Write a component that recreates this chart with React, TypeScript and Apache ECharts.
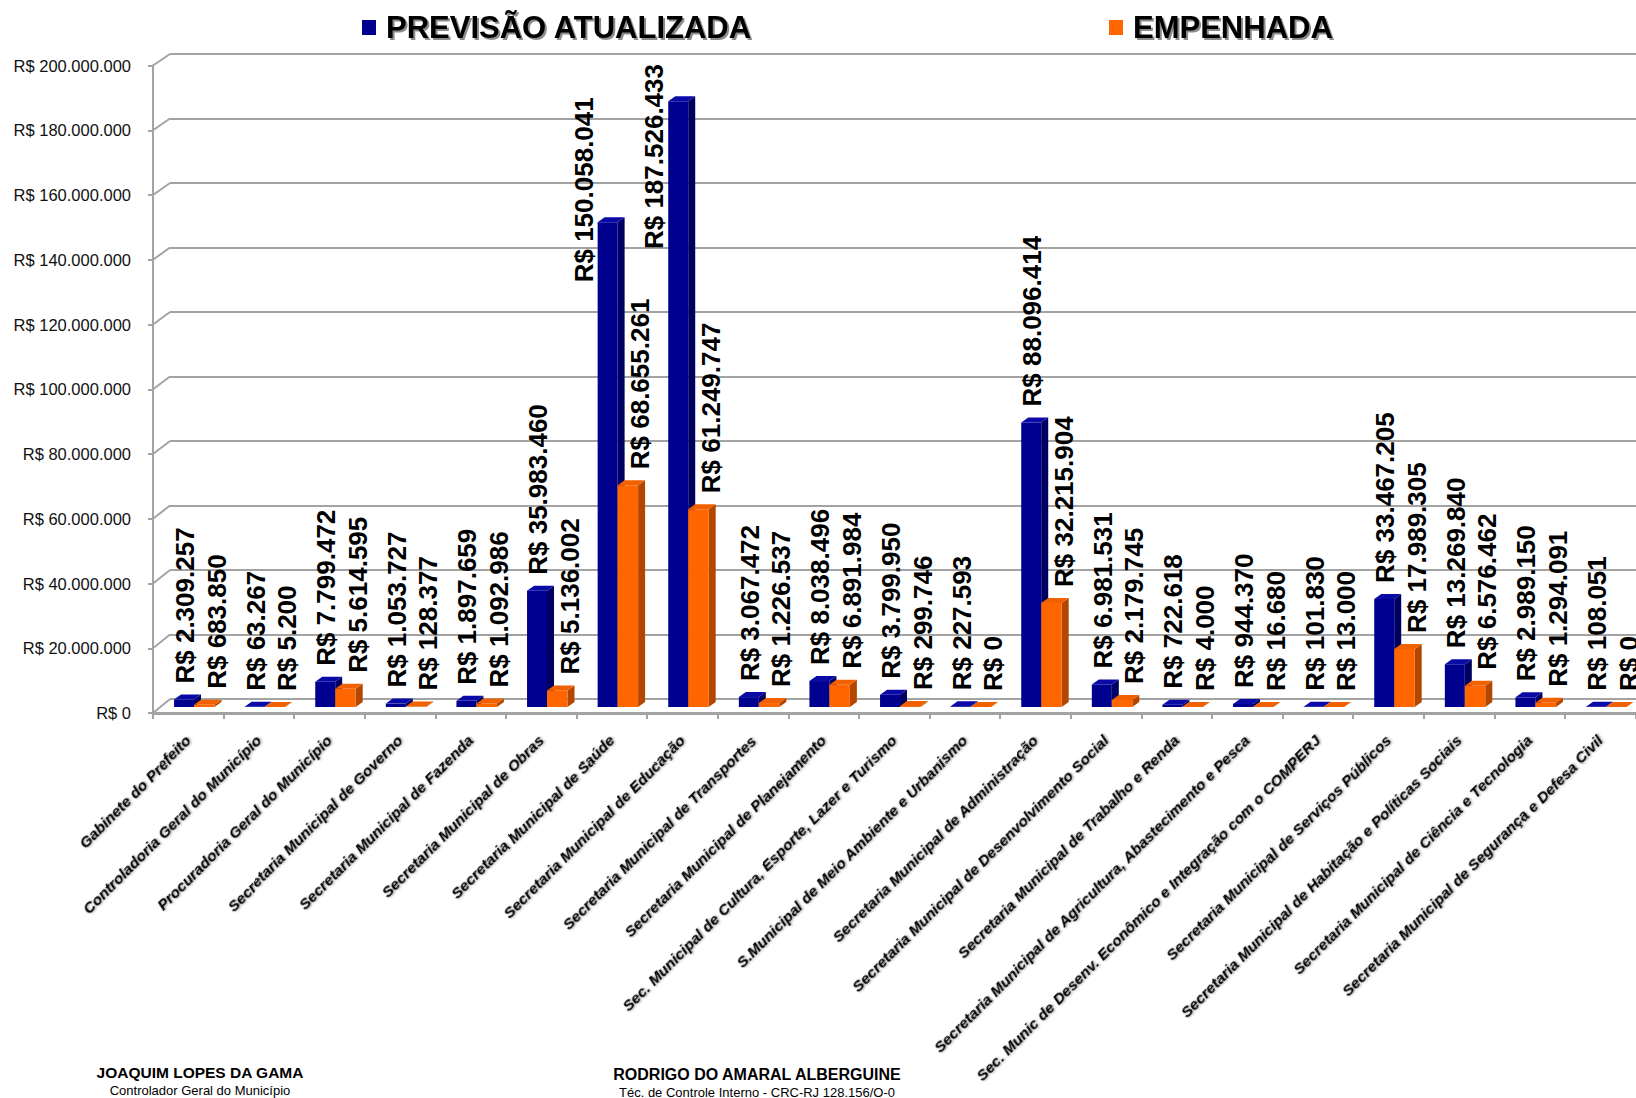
import React, { useEffect, useRef } from "react";
import * as echarts from "echarts";

const categories = [
  "Gabinete do Prefeito",
  "Controladoria Geral do Município",
  "Procuradoria Geral do Município",
  "Secretaria Municipal de Governo",
  "Secretaria Municipal de Fazenda",
  "Secretaria Municipal de Obras",
  "Secretaria Municipal de Saúde",
  "Secretaria Municipal de Educação",
  "Secretaria Municipal de Transportes",
  "Secretaria Municipal de Planejamento",
  "Sec. Municipal de Cultura, Esporte, Lazer e Turismo",
  "S.Municipal de Meio Ambiente e Urbanismo",
  "Secretaria Municipal de Administração",
  "Secretaria Municipal de Desenvolvimento Social",
  "Secretaria Municipal de Trabalho e Renda",
  "Secretaria Municipal de Agricultura, Abastecimento e Pesca",
  "Sec. Munic de Desenv. Econômico e Integração com o COMPERJ",
  "Secretaria Municipal de Serviços Públicos",
  "Secretaria Municipal de Habitação e Políticas Sociais",
  "Secretaria Municipal de Ciência e Tecnologia",
  "Secretaria Municipal de Segurança e Defesa Civil",
];

const previsaoAtualizada = [
  2309257, 63267, 7799472, 1053727, 1897659, 35983460, 150058041, 187526433,
  3067472, 8038496, 3799950, 227593, 88096414, 6981531, 722618, 944370, 101830,
  33467205, 13269840, 2989150, 108051,
];

const empenhada = [
  683850, 5200, 5614595, 128377, 1092986, 5136002, 68655261, 61249747, 1226537,
  6891984, 299746, 0, 32215904, 2179745, 4000, 16680, 13000, 17989305, 6576462,
  1294091, 0,
];

const seriesNames = ["PREVISÃO ATUALIZADA", "EMPENHADA"];
const yTickValues = [0, 20000000, 40000000, 60000000, 80000000, 100000000, 120000000, 140000000, 160000000, 180000000, 200000000];

const footerLeft = ["JOAQUIM LOPES DA GAMA", "Controlador Geral do Município"];
const footerRight = ["RODRIGO DO AMARAL ALBERGUINE", "Téc. de Controle Interno - CRC-RJ 128.156/O-0"];

const FONT = '"Liberation Sans", Arial, Helvetica, sans-serif';
const LABEL_FONT = `bold 26px ${FONT}`;
const COLORS = [
  { front: "#00008f", top: "#0a0aa6", side: "#000060" },
  { front: "#ff6600", top: "#f26100", side: "#b34700" },
];

function fmt(v: number): string {
  const s = Math.round(v).toString();
  return "R$ " + s.replace(/\B(?=(\d{3})+(?!\d))/g, ".");
}

let measureCtx: CanvasRenderingContext2D | null = null;
function measure(text: string): number {
  if (!measureCtx) {
    measureCtx = document.createElement("canvas").getContext("2d");
  }
  if (!measureCtx) return text.length * 14;
  measureCtx.font = LABEL_FONT;
  return measureCtx.measureText(text).width;
}

const LABEL_MIN_TOP = 64;

function makeRender(si: number) {
  return (params: any, api: any) => {
    const i = api.value(0);
    const v = api.value(1);
    const top = api.coord([i, v]);
    const base = api.coord([i, 0]);
    const bw = api.size([1, 0])[0];
    const s = top[0] - bw / 2;
    const x0 = s + (si === 0 ? 0.298 : 0.581) * bw;
    const x1 = s + (si === 0 ? 0.581 : 0.871) * bw;
    const yt = top[1];
    const yb = base[1];
    const dx = 7;
    const dy = 5;
    const c = COLORS[si];
    const text = fmt(v);
    const len = measure(text);
    let lx = s + (si === 0 ? 0.453 : 0.9) * bw;
    let ly = yt - dy - 11;
    if (ly - len < LABEL_MIN_TOP) {
      ly = Math.max(LABEL_MIN_TOP + len, yt + 60);
      lx -= 25;
    }
    return {
      type: "group",
      children: [
        {
          type: "polygon",
          shape: { points: [[x1, yt], [x1 + dx, yt - dy], [x1 + dx, yb - dy], [x1, yb]] },
          style: { fill: c.side },
        },
        {
          type: "rect",
          shape: { x: x0, y: yt, width: x1 - x0, height: Math.max(0, yb - yt) },
          style: { fill: c.front },
        },
        {
          type: "polygon",
          shape: { points: [[x0, yt], [x1, yt], [x1 + dx, yt - dy], [x0 + dx, yt - dy]] },
          style: { fill: c.top },
        },
        {
          type: "text",
          x: lx,
          y: ly,
          rotation: Math.PI / 2,
          z2: 100,
          style: {
            text,
            font: LABEL_FONT,
            fill: "#000",
            align: "left",
            verticalAlign: "middle",
            textAlign: "left",
            textVerticalAlign: "middle",
          },
        },
      ],
    };
  };
}

export default function App() {
  const ref = useRef<HTMLDivElement>(null);

  useEffect(() => {
    if (!ref.current) return;
    const chart = echarts.init(ref.current, undefined, { renderer: "svg" });
    const grey = "#a3a3a3";
    const legendText = {
      fontSize: 31,
      fontWeight: "bold",
      fontFamily: FONT,
      color: "#000",
      textShadowColor: "rgba(0,0,0,0.45)",
      textShadowOffsetX: 2,
      textShadowOffsetY: 2,
      textShadowBlur: 1,
      padding: [0, 0, 0, 5],
    };
    const option: any = {
      animation: false,
      backgroundColor: "#ffffff",
      legend: [
        {
          data: [seriesNames[0]],
          left: 357,
          top: 7,
          icon: "rect",
          itemWidth: 14,
          itemHeight: 15,
          textStyle: legendText,
          selectedMode: false,
        },
        {
          data: [seriesNames[1]],
          left: 1104,
          top: 7,
          icon: "rect",
          itemWidth: 14,
          itemHeight: 15,
          textStyle: legendText,
          selectedMode: false,
        },
      ],
      grid: [
        { left: 170, top: 54, width: 1500, height: 645 },
        { left: 153, top: 65.5, width: 1482.6, height: 647.5 },
        { left: 153, top: 61, width: 1482.6, height: 646 },
      ],
      xAxis: [
        { gridIndex: 0, type: "value", min: 0, max: 1, show: false },
        {
          gridIndex: 1,
          type: "category",
          data: categories,
          boundaryGap: true,
          axisLine: { show: true, lineStyle: { color: grey, width: 3 } },
          axisTick: { show: true, interval: 0, length: 6, lineStyle: { color: grey, width: 2 } },
          axisLabel: {
            interval: 0,
            rotate: 45,
            margin: 25,
            fontSize: 15.5,
            fontStyle: "italic",
            fontWeight: "bold",
            fontFamily: FONT,
            color: "#000",
            textShadowColor: "rgba(0,0,0,0.4)",
            textShadowBlur: 2,
            textShadowOffsetX: 1,
            textShadowOffsetY: 1,
          },
          splitLine: { show: false },
        },
        { gridIndex: 2, type: "category", data: categories, show: false },
      ],
      yAxis: [
        {
          gridIndex: 0,
          type: "value",
          min: 0,
          max: 200000000,
          interval: 20000000,
          axisLine: { show: false },
          axisTick: { show: false },
          axisLabel: { show: false },
          splitLine: { show: true, lineStyle: { color: grey, width: 2 } },
        },
        {
          gridIndex: 1,
          type: "value",
          min: 0,
          max: 200000000,
          interval: 20000000,
          axisLine: { show: true, lineStyle: { color: grey, width: 2 } },
          axisTick: { show: true, length: 5, lineStyle: { color: grey, width: 2 } },
          axisLabel: {
            margin: 22,
            fontSize: 16.5,
            fontFamily: FONT,
            color: "#111",
            formatter: (v: number) => fmt(v),
          },
          splitLine: { show: false },
        },
        { gridIndex: 2, type: "value", min: 0, max: 200000000, show: false },
      ],
      series: [
        {
          name: seriesNames[0],
          type: "custom",
          xAxisIndex: 2,
          yAxisIndex: 2,
          itemStyle: { color: COLORS[0].front },
          encode: { x: 0, y: 1 },
          clip: false,
          data: previsaoAtualizada.map((v, i) => [i, v]),
          renderItem: makeRender(0),
        },
        {
          name: seriesNames[1],
          type: "custom",
          xAxisIndex: 2,
          yAxisIndex: 2,
          itemStyle: { color: COLORS[1].front },
          encode: { x: 0, y: 1 },
          clip: false,
          data: empenhada.map((v, i) => [i, v]),
          renderItem: makeRender(1),
        },
      ],
    };
    chart.setOption(option);

    // decorative 3D connectors between the front axis and back wall
    const backLeft = chart.convertToPixel({ xAxisIndex: 0 }, 0) as number;
    const c0 = chart.convertToPixel({ xAxisIndex: 1 }, categories[0]) as number;
    const c1 = chart.convertToPixel({ xAxisIndex: 1 }, categories[1]) as number;
    const frontLeft = c0 - (c1 - c0) / 2;
    const connectors = yTickValues.map((v) => {
      const fy = chart.convertToPixel({ yAxisIndex: 1 }, v) as number;
      const by = chart.convertToPixel({ yAxisIndex: 0 }, v) as number;
      return {
        type: "line",
        shape: { x1: frontLeft, y1: fy, x2: backLeft, y2: by },
        style: { stroke: grey, lineWidth: 2 },
        silent: true,
      };
    });
    const footerTexts = [
      { t: footerLeft[0], x: 200, y: 1072, font: `bold 15.5px ${FONT}` },
      { t: footerLeft[1], x: 200, y: 1090, font: `13px ${FONT}` },
      { t: footerRight[0], x: 757, y: 1074, font: `bold 16px ${FONT}` },
      { t: footerRight[1], x: 757, y: 1092, font: `13px ${FONT}` },
    ].map((f) => ({
      type: "text",
      x: f.x,
      y: f.y,
      silent: true,
      style: {
        text: f.t,
        font: f.font,
        fill: "#000",
        align: "center",
        verticalAlign: "middle",
        textAlign: "center",
        textVerticalAlign: "middle",
      },
    }));
    chart.setOption({ graphic: [...connectors, ...footerTexts] });

    return () => {
      chart.dispose();
    };
  }, []);

  return (
    <div
      ref={ref}
      style={{ position: "absolute", left: 0, top: 0, width: 1636, height: 1098, background: "#fff" }}
    />
  );
}
